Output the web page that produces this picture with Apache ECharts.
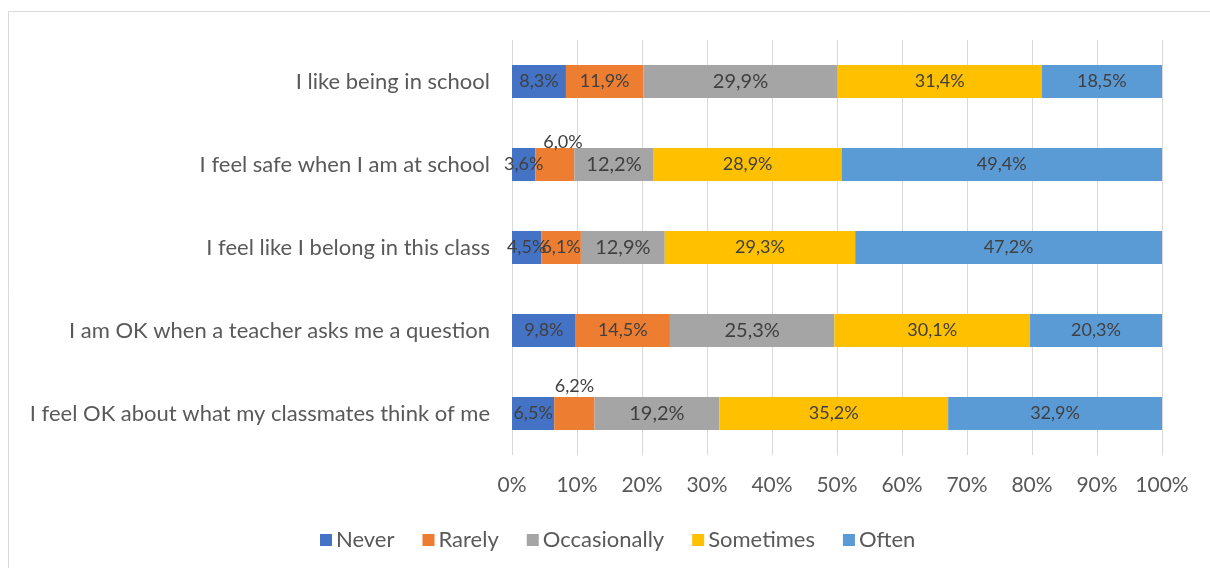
<!DOCTYPE html>
<html>
<head>
<meta charset="utf-8">
<script src="https://cdn.jsdelivr.net/npm/echarts@6/dist/echarts.min.js"></script>
<style>
  html, body { margin: 0; padding: 0; background: #ffffff; }
  #chart { width: 1210px; height: 568px; }
</style>
</head>
<body>
<div id="chart"></div>
<script>
// Survey statements, top to bottom
const statements = [
  'I like being in school',
  'I feel safe when I am at school',
  'I feel like I belong in this class',
  'I am OK when a teacher asks me a question',
  'I feel OK about what my classmates think of me'
];

// Answer shares (%) per statement, one array per answer
const never        = [8.3, 3.6, 4.5, 9.8, 6.5];
const rarely       = [11.9, 6.0, 6.1, 14.5, 6.2];
const occasionally = [29.9, 12.2, 12.9, 25.3, 19.2];
const sometimes    = [31.4, 28.9, 29.3, 30.1, 35.2];
const often        = [18.5, 49.4, 47.2, 20.3, 32.9];

const answerNames = ['Never', 'Rarely', 'Occasionally', 'Sometimes', 'Often'];
const answerValues = [never, rarely, occasionally, sometimes, often];
const answerColors = ['#4472C4', '#ED7D31', '#A5A5A5', '#FFC000', '#5B9BD5'];

const FONT = 'Lato';
const fmtPct = v => v.toFixed(1).replace('.', ',') + '%';

// Narrow "Rarely" segments carry their label above the bar
const labelAbove = {
  1: { 1: { position: 'top', distance: -3, offset: [8, 0] },
       4: { position: 'top', distance: 2, offset: [0, 0] } }
};

const series = answerNames.map((name, si) => ({
  name: name,
  type: 'bar',
  stack: 'total',
  barWidth: 33,
  itemStyle: { color: answerColors[si] },
  label: {
    show: true,
    position: 'inside',
    color: '#404040',
    fontFamily: FONT,
    fontSize: si === 2 ? 20 : 18,
    formatter: p => fmtPct(p.value)
  },
  emphasis: { disabled: true },
  data: answerValues[si].map((v, ci) => {
    const special = labelAbove[si] && labelAbove[si][ci];
    return special ? { value: v, label: special } : { value: v };
  })
}));

const chart = echarts.init(document.getElementById('chart'), null, { renderer: 'canvas' });
chart.setOption({
  animation: false,
  backgroundColor: '#ffffff',
  graphic: [{
    type: 'rect',
    shape: { x: 8.5, y: 11.5, width: 1240, height: 600 },
    style: { fill: 'none', stroke: '#D9D9D9', lineWidth: 1 },
    silent: true
  }],
  grid: { left: 512, right: 48, top: 40, bottom: 113, containLabel: false },
  xAxis: {
    type: 'value',
    min: 0,
    max: 100,
    interval: 10,
    axisLine: { show: false },
    axisTick: { show: false },
    splitLine: { show: true, lineStyle: { color: '#D9D9D9', width: 1 } },
    axisLabel: {
      formatter: '{value}%',
      color: '#595959',
      fontFamily: FONT,
      fontSize: 21,
      margin: 20
    }
  },
  yAxis: {
    type: 'category',
    inverse: true,
    data: statements,
    axisLine: { show: false },
    axisTick: { show: false },
    axisLabel: {
      color: '#595959',
      fontFamily: FONT,
      fontSize: 22,
      margin: 22
    }
  },
  legend: {
    data: answerNames,
    left: 315,
    top: 524,
    itemWidth: 12,
    itemHeight: 12,
    itemGap: 28,
    icon: 'rect',
    textStyle: { color: '#595959', fontFamily: FONT, fontSize: 22, padding: [0, 0, 0, -1] },
    selectedMode: false
  },
  series: series
});
</script>
</body>
</html>
